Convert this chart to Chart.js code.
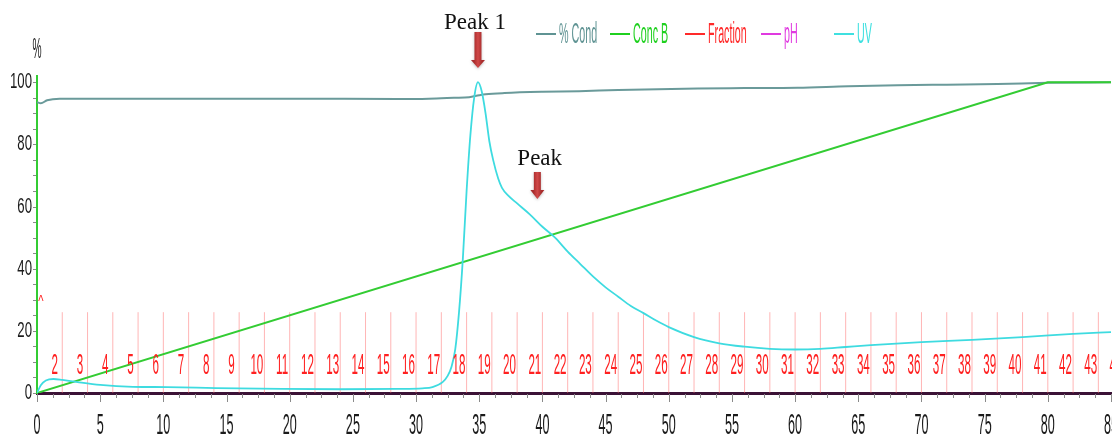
<!DOCTYPE html>
<html>
<head>
<meta charset="utf-8">
<script src="https://cdn.jsdelivr.net/npm/chart.js@4.4.1/dist/chart.umd.min.js"></script>
<style>
	html, body { margin: 0; padding: 0; background: #fff; overflow: hidden; }
	#chart { display: block; }
</style>
</head>
<body>
<canvas id="chart" width="1118" height="443"></canvas>
<script>
// run time (ml) on x, % on y
var x_ticks = [0, 5, 10, 15, 20, 25, 30, 35, 40, 45, 50, 55, 60, 65, 70, 75, 80, 85];
var y_ticks = [0, 20, 40, 60, 80, 100];

var uv_x = [0, 0.3, 0.7, 1.3, 2, 3.2, 5, 7.6, 10.3, 14.2, 19.4, 24, 28.5, 30.5, 31.3, 32.1, 32.5, 32.8, 33.1, 33.4, 33.7, 34.0, 34.3, 34.6, 34.9, 35.2, 35.5, 35.8, 36.1, 36.5, 36.8, 37.3, 38, 39, 40, 41, 42, 43, 44, 45, 46, 47, 48, 49, 50, 52, 54, 56, 58, 60, 62, 64, 66, 68, 70, 74, 78, 82, 85];
var uv_y = [0, 2.5, 4, 4.5, 4.2, 3.5, 2.6, 2.0, 1.9, 1.6, 1.3, 1.2, 1.3, 1.5, 1.9, 3.5, 5.5, 8.4, 14, 26, 43, 65, 83, 95, 100, 97, 90, 81, 75, 69, 66, 63.5, 61, 57.5, 53.5, 50, 45.5, 41.5, 37.5, 34, 31, 28, 25.7, 23.3, 21.2, 18, 16, 14.9, 14.2, 14, 14.2, 14.8, 15.4, 15.9, 16.4, 17.1, 18, 19, 19.6];

var cond_x = [0, 0.3, 0.8, 1.8, 5, 10, 20, 28.6, 31, 33, 34.2, 35, 35.5, 37, 40, 42.9, 46, 52.3, 56, 60.2, 64.2, 68.1, 72, 76, 80, 85];
var cond_y = [93.6, 93.2, 94.2, 94.7, 94.7, 94.7, 94.7, 94.6, 94.7, 95.0, 95.2, 95.8, 96.1, 96.5, 96.9, 97.1, 97.5, 98, 98.1, 98.2, 98.7, 99, 99.2, 99.4, 99.8, 100];

var concb_x = [0, 80, 85];
var concb_y = [0, 100, 100];

// fraction n ends at frac_end[n - 2]
var frac_end    = [2, 4, 6, 8, 10, 12, 14, 16, 18, 20, 22, 24, 26, 28, 30, 32, 34, 36, 38, 40, 42, 44, 46, 48, 50, 52, 54, 56, 58, 60, 62, 64, 66, 68, 70, 72, 74, 76, 78, 80, 82, 84, 86];
var frac_labels = ['2', '3', '4', '5', '6', '7', '8', '9', '10', '11', '12', '13', '14', '15', '16', '17', '18', '19', '20', '21', '22', '23', '24', '25', '26', '27', '28', '29', '30', '31', '32', '33', '34', '35', '36', '37', '38', '39', '40', '41', '42', '43', '44'];
var frac_mark_height = 26;

var legend_items = ['% Cond', 'Conc B', 'Fraction', 'pH', 'UV'];
var legend_colors = ['#5f9393', '#1fd01f', '#ff2a2a', '#e03ae0', '#3fe0e0'];
var legend_x = [536, 610, 685, 761, 834];

var peaks = [
	{ label: 'Peak 1', x: 34.9 },
	{ label: 'Peak',   x: 39.6 },
];

// the original screenshot stops here
var crop_right = 1112;

function pairs (xs, ys) {
	return xs.map(function (x, i) { return { x: x, y: ys[i] }; });
}

function frac_marks () {
	var out = [];
	frac_end.forEach(function (x) {
		out.push({ x: x, y: 0 });
		out.push({ x: x, y: frac_mark_height });
		out.push({ x: x, y: null });
	});
	return out;
}

function narrow_text (ctx, s, x, y, size, sx, color, align, family) {
	ctx.save();
	ctx.translate(x, y);
	ctx.scale(sx, 1);
	ctx.font         = size + 'px ' + (family || '"Liberation Sans", Arial, sans-serif');
	ctx.fillStyle    = color;
	ctx.textAlign    = align || 'center';
	ctx.textBaseline = 'middle';
	ctx.fillText(s, 0, 0);
	ctx.restore();
}

function draw_arrow (ctx, cx, top, head, tip) {
	ctx.save();
	ctx.shadowColor   = 'rgba(0,0,0,0.25)';
	ctx.shadowBlur    = 3;
	ctx.shadowOffsetY = 1;
	var g = ctx.createLinearGradient(cx - 4, 0, cx + 4, 0);
	g.addColorStop(0, '#a82c2c');
	g.addColorStop(0.5, '#d04848');
	g.addColorStop(1, '#a82c2c');
	ctx.fillStyle = g;
	ctx.beginPath();
	ctx.moveTo(cx - 3.5, top);
	ctx.lineTo(cx + 3.5, top);
	ctx.lineTo(cx + 3.5, head);
	ctx.lineTo(cx + 7, head);
	ctx.lineTo(cx, tip);
	ctx.lineTo(cx - 7, head);
	ctx.lineTo(cx - 3.5, head);
	ctx.closePath();
	ctx.fill();
	ctx.restore();
}

var decor_plugin = {
	id: 'decor',
	afterDraw (chart) {
		var ctx = chart.ctx;
		var xs = chart.scales.x;
		var ys = chart.scales.y;
		var area = chart.chartArea;

		// minor + major tick marks
		ctx.save();
		ctx.strokeStyle = '#8a8a8a';
		ctx.lineWidth = 1;
		ctx.beginPath();
		for (var v = 0; v <= xs.max + 0.01; v += 1.25) {
			var px = Math.round(xs.getPixelForValue(v)) + 0.5;
			var major = Math.abs(v / 5 - Math.round(v / 5)) < 0.001;
			ctx.moveTo(px, area.bottom + 1);
			ctx.lineTo(px, area.bottom + (major ? 9 : 5));
		}
		for (var w = 0; w <= 100; w += 5) {
			var py = Math.round(ys.getPixelForValue(w)) + 0.5;
			ctx.moveTo(area.left - 4, py);
			ctx.lineTo(area.left - 1, py);
		}
		ctx.stroke();
		ctx.restore();

		x_ticks.forEach(function (t) {
			narrow_text(ctx, String(t), xs.getPixelForValue(t), area.bottom + 33, 30, 0.42, '#1a1a1a');
		});
		y_ticks.forEach(function (t) {
			narrow_text(ctx, String(t), area.left - 5, ys.getPixelForValue(t), 22, 0.6, '#1a1a1a', 'right');
		});
		narrow_text(ctx, '%', area.left, 50, 30, 0.34, '#1a1a1a');

		// fraction numbers
		frac_labels.forEach(function (s, i) {
			var fx = xs.getPixelForValue(frac_end[i] - 0.6);
			narrow_text(ctx, s, fx, ys.getPixelForValue(8.7), 29, 0.4, '#ff2020');
		});
		narrow_text(ctx, '^', area.left + 4, ys.getPixelForValue(29), 16, 0.7, '#ff2020');

		// legend
		legend_items.forEach(function (s, i) {
			var lx = legend_x[i];
			ctx.save();
			ctx.strokeStyle = legend_colors[i];
			ctx.lineWidth = 2;
			ctx.beginPath();
			ctx.moveTo(lx, 34);
			ctx.lineTo(lx + 20, 34);
			ctx.stroke();
			ctx.restore();
			narrow_text(ctx, s, lx + 23, 35, 29, 0.37, legend_colors[i], 'left');
		});

		// peak annotations
		var p1 = xs.getPixelForValue(peaks[0].x);
		var p2 = xs.getPixelForValue(peaks[1].x);
		ctx.save();
		ctx.font = '23px "Liberation Serif", "Times New Roman", serif';
		ctx.fillStyle = '#111';
		ctx.textBaseline = 'alphabetic';
		ctx.textAlign = 'left';
		ctx.fillText(peaks[0].label, p1 - 34, 29);
		ctx.fillText(peaks[1].label, p2 - 20, 165);
		ctx.restore();
		draw_arrow(ctx, p1, 32, 60, 68);
		draw_arrow(ctx, p2, 172, 190, 199);

		// screenshot edge
		ctx.save();
		ctx.fillStyle = '#fff';
		ctx.fillRect(crop_right, 0, chart.width - crop_right, chart.height);
		ctx.restore();
	}
};

var chart = new Chart(document.getElementById('chart'), {
	type: 'line',
	data: {
		datasets: [
			{
				label           : 'UV',
				data            : pairs(uv_x, uv_y),
				borderColor     : '#3edbe0',
				borderWidth     : 1.8,
				pointRadius     : 0,
				cubicInterpolationMode: 'monotone',
			},
			{
				label           : 'Conc B',
				data            : pairs(concb_x, concb_y),
				borderColor     : '#33cc33',
				borderWidth     : 2,
				pointRadius     : 0,
			},
			{
				label           : '% Cond',
				data            : pairs(cond_x, cond_y),
				borderColor     : '#6a9a9a',
				borderWidth     : 2,
				pointRadius     : 0,
				cubicInterpolationMode: 'monotone',
			},
			{
				label           : 'Fraction',
				data            : frac_marks(),
				borderColor     : 'rgba(255,110,110,0.5)',
				borderWidth     : 1,
				pointRadius     : 0,
				spanGaps        : false,
			},
		],
	},
	options: {
		responsive : false,
		animation  : false,
		parsing    : true,
		layout     : { padding: { left: 37, right: 7, top: 76, bottom: 50 } },
		plugins    : {
			legend : { display: false },
			tooltip: { enabled: false },
		},
		scales: {
			x: {
				type  : 'linear',
				min   : 0,
				max   : 85,
				grid  : { display: false, drawTicks: false },
				ticks : { display: false },
				border: { display: true, color: '#3b1236', width: 3 },
			},
			y: {
				min   : 0,
				max   : 102,
				grid  : { display: false, drawTicks: false },
				ticks : { display: false },
				border: { display: true, color: '#33cc33', width: 2 },
			},
		},
	},
	plugins: [decor_plugin],
});
</script>
</body>
</html>
